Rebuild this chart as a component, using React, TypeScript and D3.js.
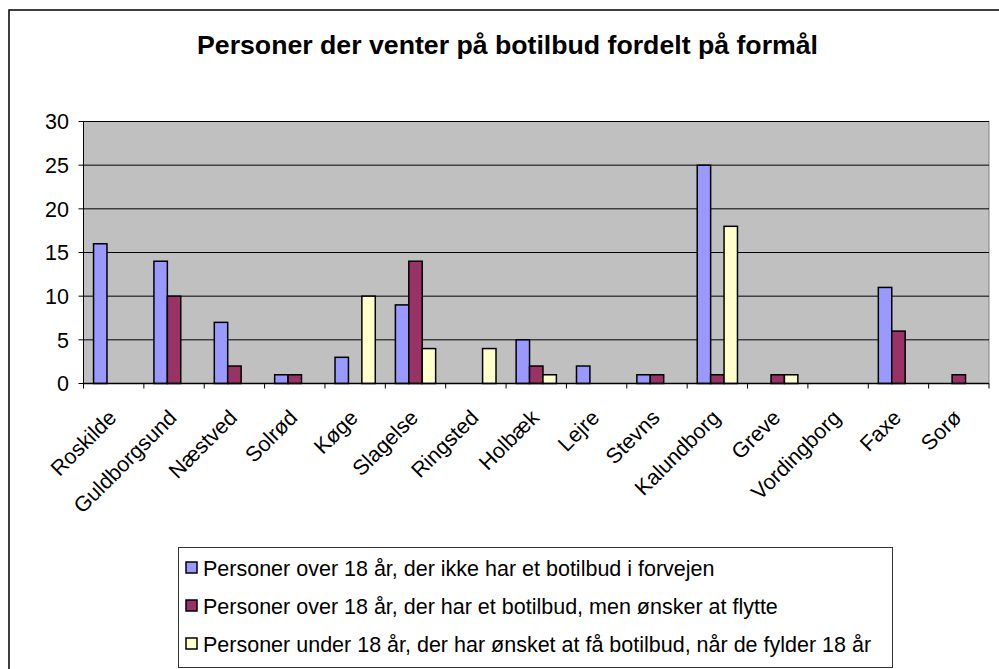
import React from 'react';
import * as d3 from 'd3';

const categories = ['Roskilde', 'Guldborgsund', 'Næstved', 'Solrød', 'Køge', 'Slagelse', 'Ringsted', 'Holbæk', 'Lejre', 'Stevns', 'Kalundborg', 'Greve', 'Vordingborg', 'Faxe', 'Sorø'];
const overNoOffer = [16, 14, 7, 1, 3, 9, 0, 5, 2, 1, 25, 0, 0, 11, 0];
const overWantMove = [0, 10, 2, 1, 0, 14, 0, 2, 0, 1, 1, 1, 0, 6, 1];
const underEighteen = [0, 0, 0, 0, 10, 4, 4, 1, 0, 0, 18, 1, 0, 0, 0];
const seriesNames = [
  'Personer over 18 år, der ikke har et botilbud i forvejen',
  'Personer over 18 år, der har et botilbud, men ønsker at flytte',
  'Personer under 18 år, der har ønsket at få botilbud, når de fylder 18 år',
];
const seriesColors = ['#9999FF', '#993366', '#FFFFCC'];
const yTicks = [0, 5, 10, 15, 20, 25, 30];

const title = 'Personer der venter på botilbud fordelt på formål';

export default function App() {
  const width = 999;
  const height = 669;
  const left = 83.5, right = 989, top = 121.5, bottom = 383.5;
  const font = 'Arial, "Liberation Sans", sans-serif';

  const series = [overNoOffer, overWantMove, underEighteen];

  const x = d3.scaleBand().domain(categories).range([left, right]).paddingInner(0).paddingOuter(0);
  const xs = d3.scaleBand().domain(['0', '1', '2']).range([0, x.bandwidth()]).paddingInner(0).paddingOuter(0.75);
  const y = d3.scaleLinear().domain([0, 30]).range([bottom, top]);

  return (
    <div style={{ position: 'absolute', left: 0, top: 0 }}>
      <svg width={width} height={height} style={{ display: 'block', background: '#fff' }}>
        {/* chart frame */}
        <rect x={9} y={10} width={1010} height={700} fill="#fff" stroke="#000" strokeWidth={1.5} />

        <text x={507.5} y={54} textAnchor="middle" fontFamily={font} fontWeight="bold" fontSize={25}
          textLength={621} lengthAdjust="spacingAndGlyphs" fill="#000">
          {title}
        </text>

        {/* plot area */}
        <rect x={left} y={top} width={right - left} height={bottom - top} fill="#C0C0C0" stroke="#808080" strokeWidth={1} />
        {yTicks.map(t => (
          <g key={t}>
            {t > 0 && <line x1={left} x2={right} y1={y(t)} y2={y(t)} stroke="#000" strokeWidth={1} />}
            <line x1={left - 5} x2={left} y1={y(t)} y2={y(t)} stroke="#000" strokeWidth={1} />
            <text x={69} y={y(t)} dy="0.36em" textAnchor="end" fontFamily={font} fontSize={21.5} fill="#000">{t}</text>
          </g>
        ))}

        {categories.map((c, i) => (
          <g key={c}>
            {series.map((s, k) => s[i] > 0 && (
              <rect key={k}
                x={(x(c) as number) + (xs(String(k)) as number)}
                y={y(s[i])}
                width={xs.bandwidth()}
                height={y(0) - y(s[i])}
                fill={seriesColors[k]} stroke="#000" strokeWidth={1.5} />
            ))}
          </g>
        ))}

        {/* axes */}
        <line x1={left} x2={left} y1={top} y2={bottom} stroke="#000" strokeWidth={1} />
        <line x1={left} x2={right} y1={bottom} y2={bottom} stroke="#000" strokeWidth={1.5} />
        {categories.concat(['']).map((c, i) => {
          const tx = left + i * x.step();
          return <line key={i} x1={tx} x2={tx} y1={bottom} y2={bottom + 5} stroke="#000" strokeWidth={1} />;
        })}
        {categories.map(c => {
          const cx = (x(c) as number) + x.bandwidth() / 2;
          return (
            <text key={c} transform={`translate(${cx + 4},${419}) rotate(-45)`} textAnchor="end"
              fontFamily={font} fontSize={21.5} fill="#000">{c}</text>
          );
        })}

        {/* legend */}
        <rect x={178.5} y={547.5} width={714} height={120} fill="#fff" stroke="#333" strokeWidth={1} />
        {seriesNames.map((n, k) => {
          const cy = 568 + k * 38;
          return (
            <g key={n}>
              <rect x={186} y={cy - 6} width={11} height={11} fill={seriesColors[k]} stroke="#000" strokeWidth={1.5} />
              <text x={203} y={cy} dy="0.35em" fontFamily={font} fontSize={21.5} fill="#000">{n}</text>
            </g>
          );
        })}
      </svg>
    </div>
  );
}
